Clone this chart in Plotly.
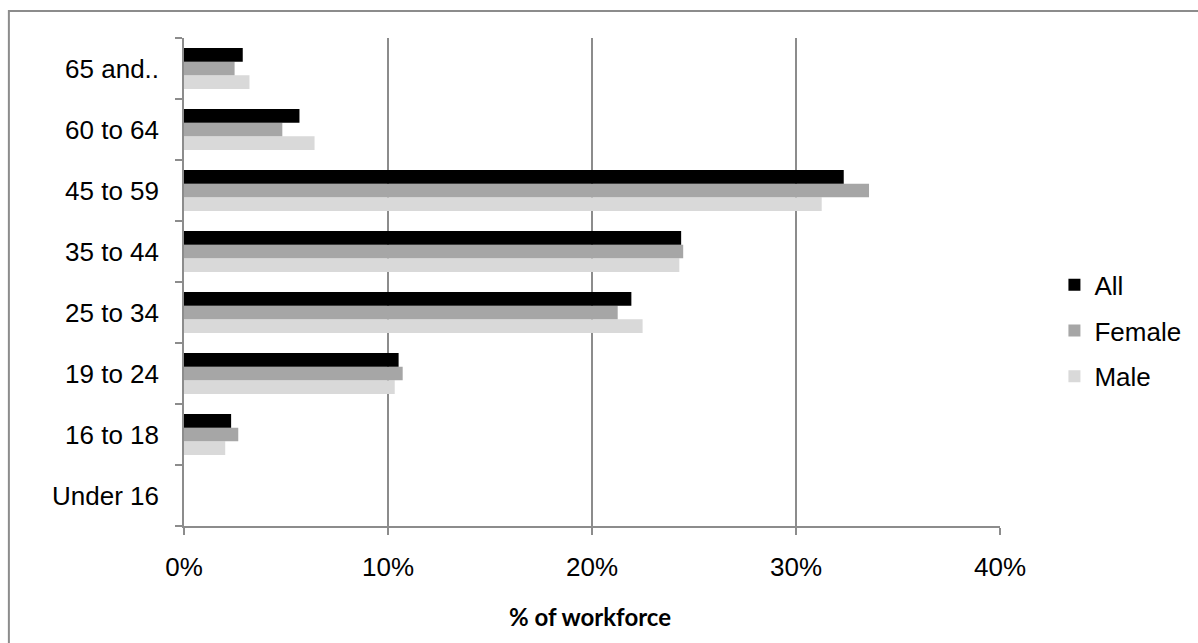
import plotly.graph_objects as go

# Age bands, listed bottom to top
age_bands = ["Under 16", "16 to 18", "19 to 24", "25 to 34", "35 to 44", "45 to 59", "60 to 64", "65 and.."]

# Share of workforce (fraction) in each age band
all_share = [0.0, 0.0231, 0.1052, 0.2193, 0.2437, 0.3234, 0.0566, 0.0288]
female_share = [0.0, 0.0266, 0.1072, 0.2126, 0.2447, 0.3358, 0.0482, 0.0248]
male_share = [0.0, 0.0202, 0.1033, 0.2248, 0.2428, 0.3126, 0.0640, 0.0321]

x_ticks = [0, 0.1, 0.2, 0.3, 0.4]
x_tick_text = ["0%", "10%", "20%", "30%", "40%"]

GRID = "#8c8c8c"
FONT = "Liberation Sans, Arial, sans-serif"

fig = go.Figure()
# traces added bottom-first so that "All" sits on top of each group;
# legendrank puts "All" first in the legend
series = [("Male", male_share, "#d9d9d9", 3),
          ("Female", female_share, "#a6a6a6", 2),
          ("All", all_share, "#000000", 1)]
for name, vals, col, rank in series:
    fig.add_trace(go.Bar(
        y=age_bands, x=vals, name=name, orientation="h",
        marker=dict(color=col, line=dict(width=0)),
        legendgroup=name, legendrank=rank,
    ))

fig.update_layout(
    width=1198, height=643,
    margin=dict(l=184, r=194, t=38, b=117),
    paper_bgcolor="white", plot_bgcolor="white",
    barmode="group", bargap=0.33, bargroupgap=0,
    font=dict(family=FONT, size=26, color="#000000"),
    showlegend=True,
    legend=dict(
        x=1.0667, xanchor="left", y=0.4, yanchor="middle",
        traceorder="grouped", tracegroupgap=9,
        font=dict(size=26), itemwidth=30,
        bgcolor="rgba(0,0,0,0)",
    ),
    xaxis=dict(
        range=[0, 0.4], tickvals=x_ticks, ticktext=x_tick_text,
        showgrid=True, gridcolor=GRID, gridwidth=1.5,
        showline=True, linecolor=GRID, linewidth=1.5,
        ticks="outside", ticklen=7, tickcolor=GRID, tickwidth=1.5,
        ticklabelstandoff=10, zeroline=False,
        tickfont=dict(size=26),
    ),
    yaxis=dict(
        categoryorder="array", categoryarray=age_bands,
        showgrid=False, showline=True, linecolor=GRID, linewidth=1.5,
        ticks="outside", ticklen=7, tickcolor=GRID, tickwidth=1.5,
        tickson="boundaries", ticklabelstandoff=18,
        tickfont=dict(size=26),
    ),
)

fig.add_annotation(
    text="<b>% of workforce</b>", xref="paper", yref="paper",
    x=0.497, y=-0.186, xanchor="center", yanchor="middle", showarrow=False,
    font=dict(family="Lato, Open Sans, sans-serif", size=24, color="#000000"),
)

# chart frame
fig.add_shape(
    type="rect", xref="paper", yref="paper",
    x0=-0.2146, x1=1.4, y0=-0.5, y1=1.0553,
    line=dict(color="#8c8c8c", width=2), fillcolor="rgba(0,0,0,0)", layer="below",
)

fig.write_html("out.html")
